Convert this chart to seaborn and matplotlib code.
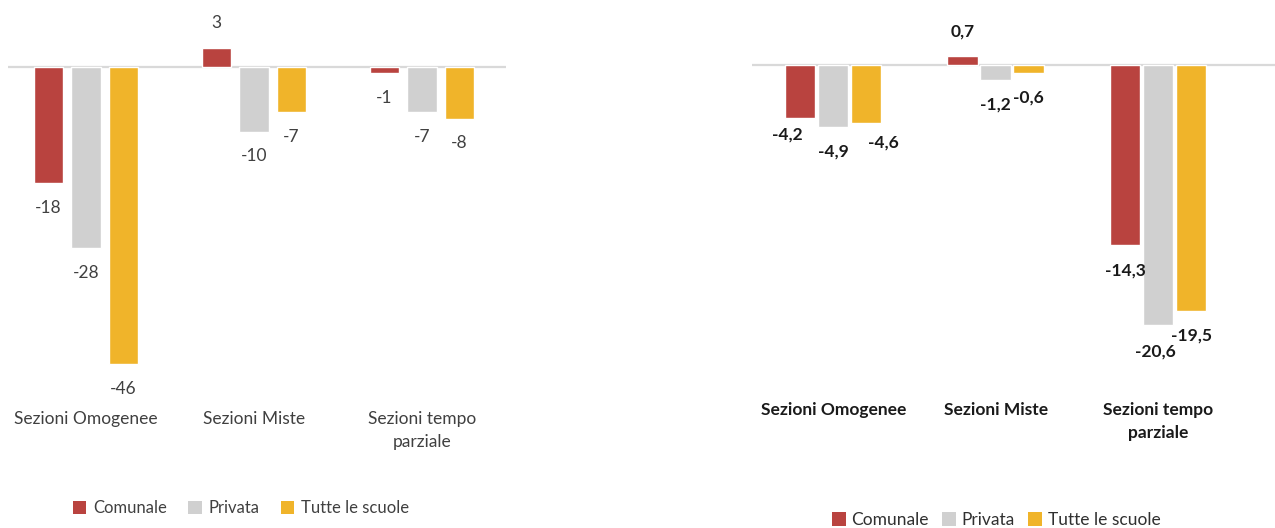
import matplotlib
matplotlib.use("Agg")
import matplotlib.pyplot as plt
from matplotlib.patches import Patch
import seaborn as sns
import pandas as pd

# Data
sezioni = ["Sezioni Omogenee", "Sezioni Miste", "Sezioni tempo\nparziale"]
serie = ["Comunale", "Privata", "Tutte le scuole"]

# Left panel: absolute change (number of sections)
var_assoluta = {
    "Comunale": [-18, 3, -1],
    "Privata": [-28, -10, -7],
    "Tutte le scuole": [-46, -7, -8],
}
# Right panel: percentage change
var_percentuale = {
    "Comunale": [-4.2, 0.7, -14.3],
    "Privata": [-4.9, -1.2, -20.6],
    "Tutte le scuole": [-4.6, -0.6, -19.5],
}

colori = ["#B9433F", "#D0D0D0", "#F0B42A"]

# Hand-placed nudges (points) for crowded value labels: (series, category) -> (dx, dy)
spostamenti_R = {
    (0, 0): (-9, 6),
    (2, 0): (12, 4),
    (1, 2): (-2, -1),
}


def to_long(d):
    rows = []
    for s in serie:
        for cat, v in zip(sezioni, d[s]):
            rows.append({"sezione": cat, "scuola": s, "valore": v})
    return pd.DataFrame(rows)


sns.set_theme(style="white")
plt.rcParams["font.family"] = ["Lato", "DejaVu Sans"]

W, H = 1275, 528
fig = plt.figure(figsize=(W / 100, H / 100), dpi=100)


def axes_px(left, right, top, bottom):
    return fig.add_axes([left / W, 1 - bottom / H, (right - left) / W, (bottom - top) / H])


def draw_panel(ax, data, xlim, ylim, width, gap, fmt, txt_color, weight, fsize, pad, nudges):
    df = to_long(data)
    sns.barplot(data=df, x="sezione", y="valore", hue="scuola", order=sezioni,
                hue_order=serie, palette=colori, width=width, gap=gap,
                errorbar=None, legend=False, ax=ax, saturation=1)
    ax.set_xlim(*xlim)
    ax.set_ylim(*ylim)
    ax.axhline(0, color="#D9D9D9", lw=1.6, zorder=0)
    for sp in ax.spines.values():
        sp.set_visible(False)
    ax.set_yticks([])
    ax.set_xlabel("")
    ax.set_ylabel("")
    ax.tick_params(axis="x", length=0, pad=7, labelsize=fsize, labelcolor=txt_color)
    for lab in ax.get_xticklabels():
        lab.set_fontweight(weight)
        lab.set_linespacing(1.55)
    for si, cont in enumerate(ax.containers):
        texts = ax.bar_label(cont, labels=[fmt(v) for v in cont.datavalues], padding=pad,
                             color=txt_color, fontsize=fsize, fontweight=weight)
        for ci, t in enumerate(texts):
            if (si, ci) in nudges:
                dx, dy = nudges[(si, ci)]
                x0, y0 = t.xyann
                t.xyann = (x0 + dx, y0 + dy)


# Left panel
axL = axes_px(8, 506, 15, 401)
draw_panel(axL, var_assoluta, (-0.464, 2.5), (-(401 - 67) / 6.46, (67 - 15) / 6.46),
           0.67, 0.21, lambda v: f"{v:.0f}", "#404040", "normal", 12.5, 12, {})

# Right panel
axR = axes_px(752, 1275, 10, 392)
draw_panel(axR, var_percentuale, (-0.5, 2.72), (-(392 - 65) / 12.62, (65 - 10) / 12.62),
           0.61, 0.08, lambda v: f"{v:.1f}".replace(".", ","), "#1A1A1A", "bold", 12.5, 12,
           spostamenti_R)

handles = [Patch(facecolor=c, edgecolor="none") for c in colori]
fig.legend(handles, serie, loc="center", bbox_to_anchor=(241 / W, 1 - 508 / H),
           ncol=3, frameon=False, fontsize=12, handlelength=0.8, handleheight=0.8,
           handletextpad=0.4, columnspacing=1.3, labelcolor="#404040")
fig.legend(handles, serie, loc="center", bbox_to_anchor=(996 / W, 1 - 520 / H),
           ncol=3, frameon=False, fontsize=12.5, handlelength=0.8, handleheight=0.8,
           handletextpad=0.3, columnspacing=0.8, labelcolor="#303030")

fig.savefig("out.png", dpi=100)
